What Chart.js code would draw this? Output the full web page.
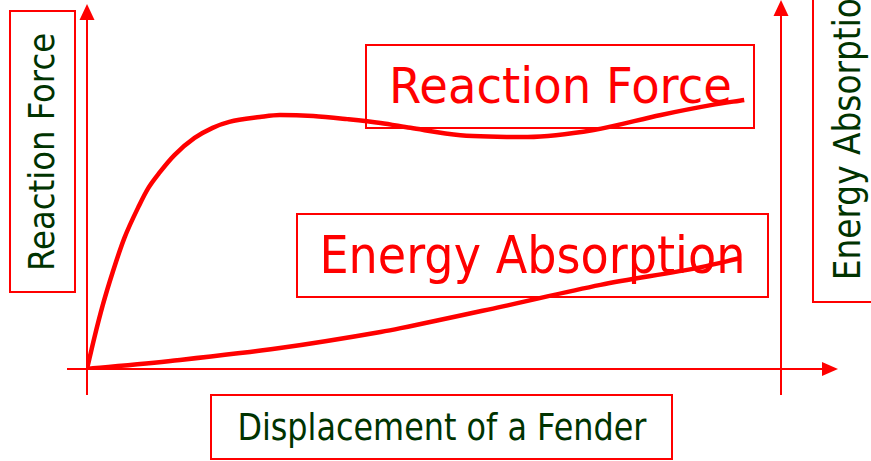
<!DOCTYPE html>
<html>
<head>
<meta charset="utf-8">
<script src="https://cdn.jsdelivr.net/npm/chart.js@4.4.0/dist/chart.umd.min.js"></script>
<style>
  html, body { margin: 0; padding: 0; background: #fff; overflow: hidden; }
  #wrap { position: relative; width: 871px; height: 461px; overflow: hidden; }
  #chart { position: absolute; left: 0; top: 0; z-index: 2; }
  .box {
    position: absolute; box-sizing: border-box; border: 2px solid #ff0000;
    display: flex; align-items: center; justify-content: center; z-index: 1;
    font-family: "DejaVu Sans", sans-serif; white-space: nowrap;
  }
  .box span { display: inline-block; line-height: 1; }
  .green { color: #003300; }
  .red { color: #ff0000; }
  .vert span { writing-mode: vertical-rl; }
</style>
</head>
<body>
<div id="wrap">
  <canvas id="chart" width="871" height="461"></canvas>

  <div class="box vert green" style="left:9px;top:10px;width:67px;height:283px;">
    <span data-len="238" style="font-size:35px;">Reaction Force</span>
  </div>
  <div class="box red" style="left:365px;top:44px;width:390px;height:85px;">
    <span data-len="343" style="font-size:49px;">Reaction Force</span>
  </div>
  <div class="box red" style="left:296px;top:213px;width:473px;height:85px;">
    <span data-len="426" style="font-size:51px;">Energy Absorption</span>
  </div>
  <div class="box vert green" style="left:812px;top:-46px;width:70px;height:349px;">
    <span data-len="303" style="font-size:37px;">Energy Absorption</span>
  </div>
  <div class="box green" style="left:210px;top:394px;width:463px;height:66px;">
    <span data-len="409" style="font-size:38px;">Displacement of a Fender</span>
  </div>
</div>

<script>
// curve data (displacement 0..100, value 0..100)
const forceDisp  = [0, 1.05, 2.27, 3.71, 5.38, 7.55, 8.85, 10.5, 12.6, 15.5, 18.1, 20.5, 24.9, 27.8, 32.6, 37.5, 42.3, 46.6, 53.8, 63.5, 73.0, 82.7, 89.9, 94.7];
const forceVals  = [0, 8.9, 18.3, 27.8, 37.5, 47.0, 51.9, 56.4, 61.3, 66.2, 69.1, 70.8, 72.2, 72.8, 72.5, 71.6, 70.5, 69.1, 67.0, 66.5, 68.5, 72.8, 75.6, 77.1];
const energyDisp = [0, 13.4, 27.8, 42.3, 45.2, 59.6, 74.0, 88.5, 94.2];
const energyVals = [0, 2.6, 6.0, 10.6, 11.7, 17.8, 24.1, 29.2, 31.8];

const RED = '#ff0000';

function toPoints(xs, ys) {
    return xs.map((x, i) => ({ x: x, y: ys[i] }));
}

// draws the three arrow axes from the scales
const arrowAxes = {
    id: 'arrowAxes',
    beforeDatasetsDraw(chart) {
        const ctx = chart.ctx;
        const xs = chart.scales.x, ys = chart.scales.y;
        const x0 = xs.getPixelForValue(0);
        const x1 = xs.getPixelForValue(100);
        const y0 = ys.getPixelForValue(0);
        const yTop = ys.getPixelForValue(100);

        ctx.save();
        ctx.strokeStyle = RED;
        ctx.fillStyle = RED;
        ctx.lineWidth = 2;

        const line = (ax, ay, bx, by) => {
            ctx.beginPath(); ctx.moveTo(ax, ay); ctx.lineTo(bx, by); ctx.stroke();
        };
        const tri = (pts) => {
            ctx.beginPath();
            ctx.moveTo(pts[0], pts[1]); ctx.lineTo(pts[2], pts[3]); ctx.lineTo(pts[4], pts[5]);
            ctx.closePath(); ctx.fill();
        };

        // horizontal axis
        line(x0 - 20, y0, x1 + 41, y0);
        tri([x1 + 41, y0 - 7, x1 + 57, y0, x1 + 41, y0 + 7]);
        // left vertical axis
        line(x0, y0 + 26, x0, yTop);
        tri([x0 - 7.5, yTop, x0, yTop - 16, x0 + 7.5, yTop]);
        // right vertical axis
        line(x1, y0 + 26, x1, yTop - 4);
        tri([x1 - 7.5, yTop - 4, x1, yTop - 20, x1 + 7.5, yTop - 4]);
        ctx.restore();
    }
};

const curveStyle = {
    borderColor: RED,
    borderWidth: 4.5,
    pointRadius: 0,
    cubicInterpolationMode: 'monotone',
    fill: false
};

new Chart(document.getElementById('chart').getContext('2d'), {
    type: 'line',
    data: {
        datasets: [
            Object.assign({ label: 'Reaction Force', data: toPoints(forceDisp, forceVals) }, curveStyle),
            Object.assign({ label: 'Energy Absorption', data: toPoints(energyDisp, energyVals) }, curveStyle)
        ]
    },
    options: {
        responsive: false,
        animation: false,
        layout: { padding: { left: 87, right: 90, top: 20, bottom: 92 } },
        plugins: { legend: { display: false }, tooltip: { enabled: false } },
        scales: {
            x: { type: 'linear', min: 0, max: 100, display: false },
            y: { type: 'linear', min: 0, max: 100, display: false }
        }
    },
    plugins: [arrowAxes]
});

// stretch each label so its length matches the picture
function fitLabels() {
    document.querySelectorAll('.box span').forEach(sp => {
        const target = +sp.dataset.len;
        const vert = sp.parentElement.classList.contains('vert');
        const r = sp.getBoundingClientRect();
        const k = target / (vert ? r.height : r.width);
        sp.style.transform = vert ? `rotate(180deg) scaleY(${k})` : `scaleX(${k})`;
    });
}
fitLabels();
</script>
</body>
</html>
